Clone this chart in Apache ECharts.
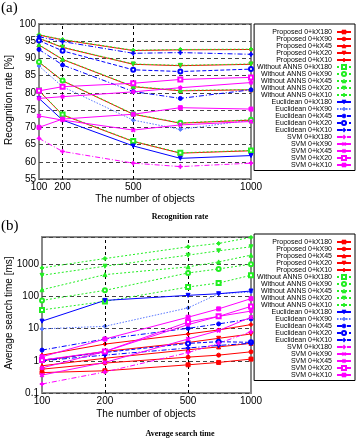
<!DOCTYPE html>
<html><head><meta charset="utf-8">
<script src="https://cdn.jsdelivr.net/npm/echarts@6/dist/echarts.min.js"></script>
<style>html,body{margin:0;padding:0;background:#fff}#c{width:357px;height:438px}</style>
</head><body><div id="c"></div><script>
// number of objects (x values)
const objects = [100, 200, 500, 700, 1000];
const kXNames = ['0+kX180', '0+kX90', '0+kX45', '0+kX20', '0+kX10'];
const methods = ['Proposed', 'Without ANNS', 'Euclidean', 'SVM'];
const xTickLabelsA = [100, 200, 500, 1000];
const xTickLabelsB = [100, 200, 500, 1000];

// (a) recognition rate [%], rows in kX order 180, 90, 45, 20, 10
const rateProposed = [
  [80.6, 73.6, 65.9, 62.5, 63.2],
  [88.9, 83.5, 73.8, 71.2, 72.1],
  [93.9, 89.7, 81.8, 80.6, 80.9],
  [95.8, 93.2, 88.3, 87.9, 88.3],
  [96.8, 95.4, 92.3, 92.5, 92.6]
];
const rateWithoutANNS = [
  [80.7, 73.7, 66.0, 62.6, 63.3],
  [89.0, 83.6, 73.9, 71.3, 72.2],
  [94.0, 89.8, 81.9, 80.7, 81.0],
  [95.9, 93.3, 88.4, 88.0, 88.4],
  [96.9, 95.5, 92.4, 92.6, 92.7]
];
const rateEuclidean = [
  [78.4, 72.1, 64.6, 61.0, 61.8],
  [87.8, 81.8, 72.1, 69.4, 72.1],
  [92.6, 88.1, 80.4, 78.4, 80.9],
  [95.2, 92.2, 86.7, 86.2, 86.9],
  [96.3, 94.9, 91.5, 91.7, 91.2]
];
const rateSVM = [
  [66.8, 63.0, 59.6, 58.6, 59.6],
  [73.3, 72.1, 69.2, 70.7, 71.7],
  [78.4, 78.9, 80.3, 81.5, 83.0],
  [80.6, 81.8, 82.8, 83.9, 84.5],
  [70.0, 72.4, 73.8, 75.7, 75.3]
];

// (b) average search time [ms]
const timeProposed = [
  [0.43, 0.49, 0.75, 0.89, 1.13],
  [0.55, 0.85, 1.3, 1.5, 1.9],
  [0.7, 1.2, 2.2, 2.7, 3.5],
  [1.0, 1.95, 3.7, 5.0, 6.8],
  [1.5, 3.3, 6.8, 9.1, 13.3]
];
const timeWithoutANNS = [
  [38, 70, 196, 261, 453],
  [75, 154, 535, 714, 1000],
  [161, 475, 826, 1180, 1910],
  [453, 866, 1910, 2610, 3470],
  [768, 1500, 3470, 4430, 6810]
];
const timeEuclidean = [
  [17, 75, 108, 121, 147],
  [9.8, 11.8, 44, 121, 136],
  [2.15, 4.75, 10.2, 14, 20],
  [1.05, 1.82, 3.47, 3.93, 3.74],
  [1.0, 1.5, 2.5, 3.0, 3.5]
];
const timeSVM = [
  [0.19, 0.45, 1.8, 3.5, 8.0],
  [0.36, 0.89, 4.75, 8.7, 22.6],
  [0.6, 1.95, 13.3, 24, 35],
  [1.05, 1.95, 16, 24, 49],
  [1.33, 4.75, 22.6, 41, 85]
];

const rates = [rateProposed, rateWithoutANNS, rateEuclidean, rateSVM];
const times = [timeProposed, timeWithoutANNS, timeEuclidean, timeSVM];

const TRI_DOWN = 'path://M0,0L10,0L5,9Z';
const PLUS = 'path://M4,0H6V4H10V6H6V10H4V6H0V4H4Z';
const STAR = 'path://M4.4,0H5.6V3.6L8.4,1L9.2,1.8L6.4,4.4H10V5.6H6.4L9.2,8.2L8.4,9L5.6,6.4V10H4.4V6.4L1.6,9L0.8,8.2L3.6,5.6H0V4.4H3.6L0.8,1.8L1.6,1L4.4,3.6Z';

const styles = [
  [ // Proposed
    {c:'#ff0000', t:'solid', s:'rect', z:5},
    {c:'#ff0000', t:'solid', s:'circle', z:5},
    {c:'#ff0000', t:'solid', s:'triangle', z:5},
    {c:'#ff0000', t:'solid', s:TRI_DOWN, z:5},
    {c:'#ff0000', t:'solid', s:'diamond', z:4}
  ],
  [ // Without ANNS
    {c:'#22ee22', t:[2,2], s:'emptyRect', z:5},
    {c:'#22ee22', t:[2,2], s:'emptyCircle', z:5},
    {c:'#22ee22', t:[2,2], s:'triangle', z:5},
    {c:'#22ee22', t:[2,2], s:TRI_DOWN, z:5},
    {c:'#22ee22', t:[2,2], s:'diamond', z:5}
  ],
  [ // Euclidean
    {c:'#0000ff', t:'solid', s:TRI_DOWN, z:5},
    {c:'#5a78ff', t:[1.5,1.5], s:'diamond', z:4},
    {c:'#0000ff', t:[5,2,1,2], s:'circle', z:5},
    {c:'#0000ff', t:[4,2], s:'emptyCircle', z:5},
    {c:'#0000ff', t:[5,2,1,2], s:PLUS, z:5}
  ],
  [ // SVM
    {c:'#ff00ff', t:[5,2,1,2], s:PLUS, z:5},
    {c:'#ff00ff', t:'solid', s:PLUS, r:45, z:5},
    {c:'#ff00ff', t:'solid', s:STAR, z:5},
    {c:'#ff00ff', t:'solid', s:'emptyRect', z:5},
    {c:'#ff00ff', t:'solid', s:'rect', z:5}
  ]
];

const names = [];
methods.forEach(m => kXNames.forEach(k => names.push(m + ' ' + k)));

const series = [];
[rates, times].forEach((set, gi) => {
  methods.forEach((m, mi) => {
    kXNames.forEach((k, ki) => {
      const st = styles[mi][ki];
      series.push({
        name: m + ' ' + k,
        type: 'line',
        xAxisIndex: gi, yAxisIndex: gi,
        data: objects.map((x, i) => [x, set[mi][ki][i]]),
        symbol: st.s,
        symbolRotate: st.r || 0,
        symbolSize: 4,
        z: st.z,
        lineStyle: {color: st.c, width: 1, type: st.t},
        itemStyle: {color: st.c, borderColor: st.c, borderWidth: 1},
        emphasis: {disabled: true},
        animation: false
      });
    });
  });
});

// vertical grid lines at 200 and 500
[0, 1].forEach(gi => {
  series.push({
    type: 'line', xAxisIndex: gi, yAxisIndex: gi, data: [], silent: true,
    markLine: {
      silent: true, symbol: ['none', 'none'], label: {show: false},
      lineStyle: {color: '#000', type: [3, 3], width: 1},
      data: [{xAxis: 200}, {xAxis: 500}],
      animation: false
    }
  });
});

const plainFmt = v => String(v);
const axisLbl = {color: '#000', fontSize: 10, fontFamily: 'Liberation Sans, Arial, sans-serif', formatter: plainFmt};
const splitH = {show: true, lineStyle: {color: '#444', type: [4, 3], width: 1}};

const legendBase = {
  orient: 'vertical', right: 2, align: 'right',
  itemWidth: 14, itemHeight: 5, itemGap: 0,
  padding: [4.5, 3, 2, 3],
  borderColor: '#000', borderWidth: 1, backgroundColor: '#fff',
  itemStyle: {borderWidth: 0.6},
  textStyle: {fontSize: 7, lineHeight: 7, color: '#000', fontFamily: 'Liberation Sans, Arial, sans-serif'},
  data: names, selectedMode: false
};

const serifBold = 'bold 8px "Liberation Serif", "Times New Roman", serif';
const sans10 = '10px "Liberation Sans", Arial, sans-serif';

const option = {
  animation: false,
  backgroundColor: '#fff',
  grid: [
    {left: 39, top: 24, width: 212, height: 155, show: true, borderColor: '#888', borderWidth: 2, containLabel: false},
    {left: 42, top: 237, width: 209, height: 156, show: true, borderColor: '#888', borderWidth: 2, containLabel: false}
  ],
  xAxis: [
    {type: 'value', gridIndex: 0, min: 100, max: 1000, interval: 100,
     axisLine: {show: false}, axisTick: {show: false}, splitLine: {show: false},
     axisLabel: Object.assign({margin: 3, customValues: xTickLabelsA}, axisLbl)},
    {type: 'log', gridIndex: 1, min: 100, max: 1000, logBase: 10,
     axisLine: {show: false}, axisTick: {show: false}, splitLine: {show: false}, minorSplitLine: {show: false},
     axisLabel: Object.assign({margin: 3, customValues: xTickLabelsB}, axisLbl)}
  ],
  yAxis: [
    {type: 'value', gridIndex: 0, min: 55, max: 100, interval: 5,
     axisLine: {show: false}, axisTick: {show: false}, splitLine: splitH,
     axisLabel: Object.assign({margin: 3}, axisLbl)},
    {type: 'log', gridIndex: 1, min: 0.1, max: 7000, logBase: 10,
     axisLine: {show: false}, axisTick: {show: false}, splitLine: splitH,
     axisLabel: Object.assign({margin: 3, showMaxLabel: false}, axisLbl)}
  ],
  legend: [
    Object.assign({top: 24}, legendBase),
    Object.assign({top: 234}, legendBase)
  ],
  graphic: [
    {type: 'text', left: 1, top: 1, style: {text: '(a)', font: '15px "Liberation Serif", serif', fill: '#000'}},
    {type: 'text', left: 1, top: 219, style: {text: '(b)', font: '15px "Liberation Serif", serif', fill: '#000'}},
    {type: 'text', x: 145, y: 199, style: {text: 'The number of objects', font: sans10, fill: '#000', align: 'center', verticalAlign: 'middle'}},
    {type: 'text', x: 146, y: 414, style: {text: 'The number of objects', font: sans10, fill: '#000', align: 'center', verticalAlign: 'middle'}},
    {type: 'text', x: 180, y: 217, style: {text: 'Recognition rate', font: serifBold, fill: '#000', align: 'center', verticalAlign: 'middle'}},
    {type: 'text', x: 180, y: 434, style: {text: 'Average search time', font: serifBold, fill: '#000', align: 'center', verticalAlign: 'middle'}},
    {type: 'text', x: 9, y: 100, rotation: Math.PI / 2, style: {text: 'Recognition rate [%]', font: sans10, fill: '#000', align: 'center', verticalAlign: 'middle'}},
    {type: 'text', x: 9, y: 313, rotation: Math.PI / 2, style: {text: 'Average search time [ms]', font: sans10, fill: '#000', align: 'center', verticalAlign: 'middle'}}
  ],
  series: series
};

const chart = echarts.init(document.getElementById('c'), null, {renderer: 'canvas'});
chart.setOption(option);
</script></body></html>
